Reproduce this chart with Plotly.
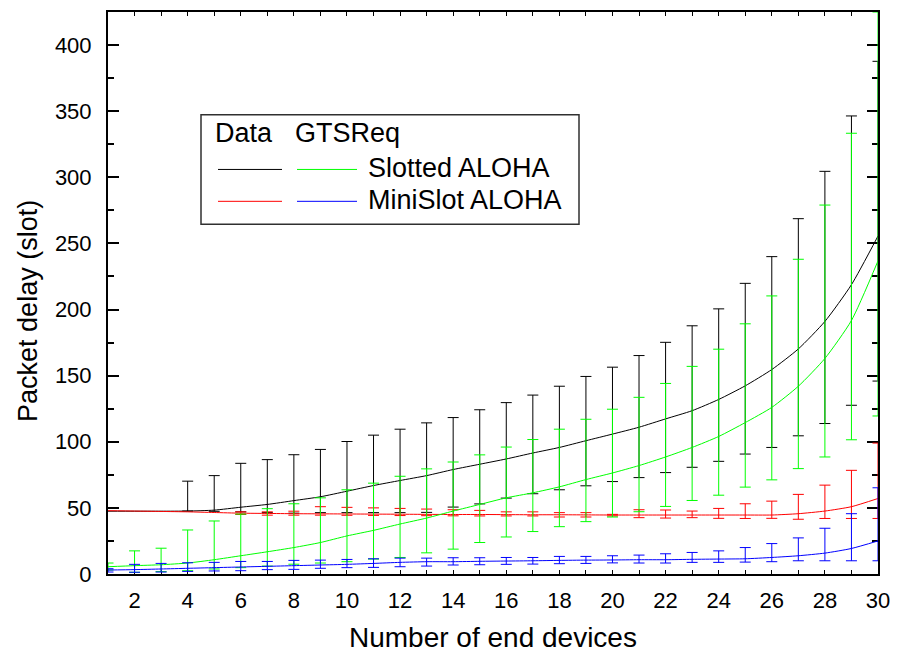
import plotly.graph_objects as go
import numpy as np

# ---------------- data ----------------
devices = list(range(1, 31))

# Data - Slotted ALOHA (black)
data_slotted = [47.5, 47.5, 47.5, 47.6, 48.3, 50.5, 52.6, 55.5, 58.4, 62.6,
                66.9, 70.7, 74.4, 79.0, 83.0, 87.0, 91.5, 95.7, 100.8, 105.8,
                111.0, 117.3, 123.5, 132.0, 142.3, 154.6, 170.2, 191.0, 218.8, 255.6]
data_slotted_hi = [None, None, None, 70.2, 74.4, 83.7, 86.5, 90.2, 94.2, 100.2,
                   105.0, 109.5, 114.3, 118.3, 124.2, 129.6, 135.3, 142.0, 149.4, 156.4,
                   165.2, 175.2, 187.7, 200.5, 219.8, 240.0, 268.7, 304.5, 346.4, 387.7]
data_slotted_lo = [None, None, None, 47.6, 47.4, 47.0, 46.4, 46.0, 46.4, 46.4,
                   46.4, 46.4, 46.6, 50.6, 53.0, 57.4, 60.7, 63.7, 66.7, 69.9,
                   72.9, 76.7, 80.7, 85.2, 90.7, 95.7, 104.5, 113.8, 127.6, 145.9]

# Data - MiniSlot ALOHA (red)
data_mini = [47.9, 47.6, 47.3, 47.0, 46.5, 46.0, 45.8, 45.6, 45.5, 45.4,
             45.3, 45.2, 45.1, 45.0, 45.0, 44.9, 44.8, 44.8, 44.7, 44.6,
             44.6, 44.6, 44.6, 44.6, 44.6, 44.6, 45.6, 47.6, 50.9, 57.1]
data_mini_hi = [None, None, None, None, None, 47.0, 47.0, 47.5, 50.9, 50.4,
                50.0, 49.6, 49.1, 48.6, 48.1, 47.0, 47.0, 46.4, 46.4, 45.1,
                48.6, 48.4, 47.6, 49.6, 53.1, 55.1, 60.2, 67.2, 78.4, 99.0]
data_mini_lo = [None, None, None, None, None, 45.0, 44.5, 44.5, 44.5, 44.4,
                44.3, 44.2, 44.1, 44.0, 43.9, 43.9, 43.9, 43.1, 43.1, 43.9,
                42.6, 42.3, 42.6, 42.1, 42.0, 42.1, 41.4, 42.0, 42.0, 42.0]

# GTSReq - Slotted ALOHA (green)
gts_slotted = [5.5, 6.3, 7.0, 8.3, 10.8, 13.8, 16.8, 20.0, 23.8, 28.8,
               33.0, 37.8, 42.3, 47.6, 52.6, 57.6, 61.4, 65.9, 71.4, 76.4,
               82.0, 88.5, 95.7, 104.0, 114.5, 126.0, 142.0, 163.0, 191.7, 236.8]
gts_slotted_hi = [8.3, 17.5, 19.5, 33.3, 40.1, 45.3, 49.4, 53.1, 57.6, 63.7,
                  68.7, 73.9, 79.5, 84.7, 90.1, 96.0, 101.7, 109.5, 117.0, 124.6,
                  133.6, 144.1, 157.0, 170.0, 189.2, 210.3, 238.0, 279.0, 333.3, 425.0]
gts_slotted_lo = [3.0, 1.3, 1.8, 2.5, 3.8, 4.8, 6.0, 7.4, 8.3, 9.3,
                  11.3, 12.5, 16.0, 18.8, 23.8, 28.0, 32.1, 35.8, 39.6, 43.1,
                  47.1, 51.1, 55.6, 59.6, 65.7, 71.2, 79.7, 88.5, 101.5, 119.5]

# GTSReq - MiniSlot ALOHA (blue)
gts_mini = [3.0, 3.3, 3.8, 4.3, 4.8, 5.3, 5.8, 6.3, 6.8, 7.3,
            8.0, 8.8, 9.3, 9.3, 9.6, 9.8, 10.0, 10.3, 10.5, 10.6,
            10.8, 10.8, 11.1, 11.3, 11.5, 12.5, 13.8, 15.8, 19.3, 25.0]
gts_mini_hi = [4.0, 7.3, 8.0, 8.5, 8.8, 9.5, 9.5, 10.3, 10.5, 11.0,
               11.5, 12.0, 12.0, 12.3, 12.3, 12.5, 12.5, 13.3, 13.3, 13.8,
               14.3, 15.3, 16.3, 17.5, 20.0, 23.0, 27.3, 34.6, 45.6, 65.2]
gts_mini_lo = [1.5, 1.3, 1.5, 2.0, 2.3, 2.5, 3.3, 3.5, 4.3, 4.8,
               5.0, 5.5, 6.0, 6.8, 7.0, 7.3, 7.5, 7.8, 8.0, 8.4,
               8.3, 8.3, 8.8, 8.8, 9.0, 9.3, 10.0, 10.0, 10.0, 10.0]

x_tick_vals = list(range(2, 31, 2))
y_tick_vals = [0, 50, 100, 150, 200, 250, 300, 350, 400]

series = [
    ("Data Slotted ALOHA", data_slotted, data_slotted_hi, data_slotted_lo, "#000000"),
    ("Data MiniSlot ALOHA", data_mini, data_mini_hi, data_mini_lo, "#ff0000"),
    ("GTSReq Slotted ALOHA", gts_slotted, gts_slotted_hi, gts_slotted_lo, "#00ff00"),
    ("GTSReq MiniSlot ALOHA", gts_mini, gts_mini_hi, gts_mini_lo, "#0000ff"),
]

FONT = "Liberation Sans, Arial, sans-serif"

fig = go.Figure()
for name, mean, hi, lo, col in series:
    m = np.array(mean, dtype=float)
    h = np.array([np.nan if v is None else v for v in hi], dtype=float)
    l = np.array([np.nan if v is None else v for v in lo], dtype=float)
    fig.add_trace(go.Scatter(
        x=devices, y=mean, name=name, mode="lines", cliponaxis=False,
        line=dict(color=col, width=1, shape="spline", smoothing=0.6),
        error_y=dict(type="data", symmetric=False, array=h - m, arrayminus=m - l,
                     color=col, thickness=1, width=5.5),
        showlegend=False,
    ))

# page offset (default body margin) and plot area in screenshot pixels
OFF = 8
W, H = 900, 648
L, R, T, B = 108, 878, 10, 574

def px(x):
    return (x - L) / (R - L)

def py(y):
    return (B - y) / (B - T)

axis_common = dict(showline=True, linewidth=2, linecolor="black", mirror="ticks",
                   showgrid=False, zeroline=False, ticks="inside", layer="below traces",
                   tickcolor="black", tickfont=dict(family=FONT, size=22, color="black"))

fig.update_xaxes(range=[1, 30], tickvals=x_tick_vals, ticklen=4, tickwidth=1,
                 minor=dict(dtick=1, tick0=0, ticks="inside", ticklen=4, tickcolor="black"),
                 ticklabelstandoff=6, **axis_common)
fig.update_yaxes(range=[0, 425], tickvals=y_tick_vals, ticklen=11, tickwidth=2,
                 minor=dict(dtick=25, tick0=0, ticks="inside", ticklen=6, tickcolor="black", tickwidth=2),
                 ticklabelstandoff=10, **axis_common)

shapes = [dict(type="rect", xref="paper", yref="paper",
               x0=px(201), x1=px(579), y0=py(223), y1=py(113),
               line=dict(color="#303030", width=1.5), fillcolor="white", layer="above")]
leg_lines = [(218, 282, 168, "#000000"), (297, 357, 168, "#00ff00"),
             (218, 282, 200, "#ff0000"), (297, 357, 200, "#0000ff")]
for x0, x1, y, c in leg_lines:
    shapes.append(dict(type="line", xref="paper", yref="paper",
                       x0=px(x0), x1=px(x1), y0=py(y), y1=py(y),
                       line=dict(color=c, width=1), layer="above"))

ann = []
def txt(t, x, y, size, anchor="left", angle=0):
    ann.append(dict(text=t, x=px(x), y=py(y), xref="paper", yref="paper",
                    xanchor=anchor, yanchor="middle", showarrow=False, textangle=angle,
                    font=dict(family=FONT, size=size, color="black")))

txt("Data", 213, 131, 27)
txt("GTSReq", 293, 131, 27)
txt("Slotted ALOHA", 366, 167, 27)
txt("MiniSlot ALOHA", 366, 199, 27)
txt("Number of end devices", 492.5, 638, 28, anchor="center")
txt("Packet delay (slot)", 28, 310, 27, anchor="center", angle=-90)

fig.update_layout(
    width=W, height=H,
    margin=dict(l=L - OFF, r=W - (R - OFF), t=T - OFF, b=H - (B - OFF)),
    plot_bgcolor="white", paper_bgcolor="white",
    shapes=shapes, annotations=ann, showlegend=False,
    font=dict(family=FONT, color="black"),
)

fig.write_html("out.html")
